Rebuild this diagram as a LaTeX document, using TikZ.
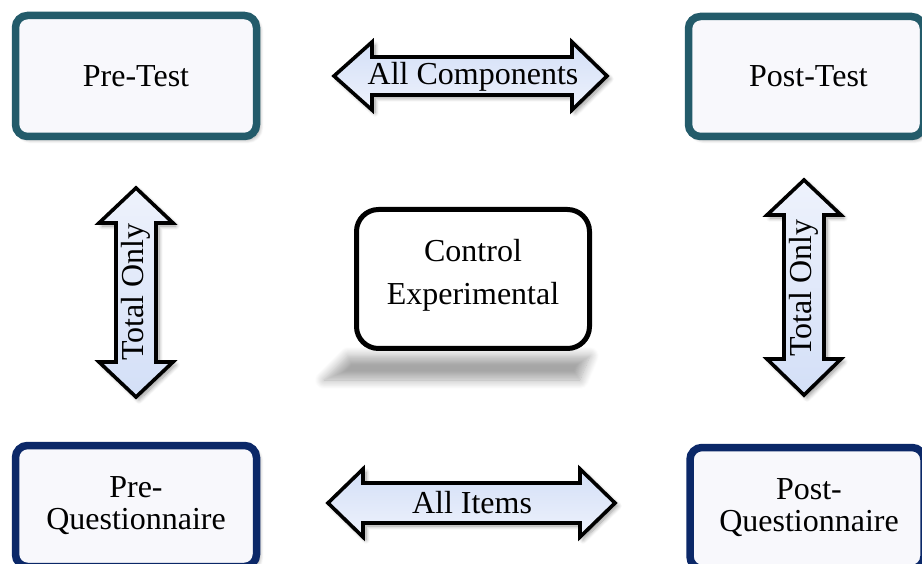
\documentclass[tikz,border=0pt]{standalone}
\usepackage{fontspec}
\setmainfont{Liberation Serif}
\usetikzlibrary{shadows.blur}

\definecolor{tealedge}{HTML}{235B6A}
\definecolor{navyedge}{HTML}{0B2868}
\definecolor{boxfill}{HTML}{F8F8FC}
\definecolor{arrowdark}{HTML}{D3DFF7}
\definecolor{arrowlight}{HTML}{EEF2FC}

\tikzset{
  softshadow/.style={blur shadow={shadow xshift=3pt, shadow yshift=-3pt,
      shadow opacity=40, shadow blur radius=4pt, shadow blur steps=8}},
  stagebox/.style={draw, line width=7.5pt, rounded corners=12pt, fill=boxfill,
      softshadow, align=center, inner sep=0pt,
      font=\fontsize{32}{32}\selectfont},
  testbox/.style={stagebox, draw=tealedge},
  quesbox/.style={stagebox, draw=navyedge},
  groupbox/.style={draw=black, line width=5pt, rounded corners=22pt, fill=white},
  grouptext/.style={align=center, inner sep=0pt, font=\fontsize{32}{43}\selectfont},
  harrow/.style={draw=black, line width=3.6pt, line join=miter, softshadow,
      top color=arrowdark, bottom color=arrowlight},
  varrow/.style={draw=black, line width=3.6pt, line join=miter, softshadow,
      top color=arrowlight, bottom color=arrowdark},
  arrowlabel/.style={inner sep=0pt, font=\fontsize{32}{32}\selectfont},
}

\begin{document}
\begin{tikzpicture}[x=1pt, y=-1pt]
\useasboundingbox (0,0) rectangle (922,564);
\clip (0,0) rectangle (922,564);

% the four stages
\node[testbox, minimum width=241pt, minimum height=121pt] (pretest) at (136,76) {Pre-Test};
\node[testbox, minimum width=235pt, minimum height=120pt] (posttest) at (806,76.5)
  {\hspace*{5pt}Post-Test};
\node[quesbox, minimum width=241pt, minimum height=121pt] (preq) at (136,506) {Pre-\\Questionnaire};
\node[quesbox, minimum width=234pt, minimum height=121pt] (postq) at (807,508)
  {\hspace*{4pt}Post-\\\hspace*{4pt}Questionnaire};

% soft shadow cast under the group box
\path[blur shadow={shadow xshift=0pt, shadow yshift=0pt, shadow opacity=35,
      shadow blur radius=9pt, shadow blur steps=12}]
  (348,356) -- (590,356) -- (580,380) -- (324,380) -- cycle;

% the two groups
\node[groupbox, minimum width=233pt, minimum height=139pt] (groups) at (473,279) {};
\node[grouptext] (groupnames) at ([yshift=4pt]groups.center) {Control\\Experimental};

% horizontal double arrows
\draw[harrow] (334,76) -- (372,42) -- (372,57) -- (572,57) -- (572,42) -- (607,76)
  -- (572,110) -- (572,95) -- (372,95) -- (372,110) -- cycle;
\node[arrowlabel, anchor=base] (allcomp) at (473,85) {All Components};

\draw[harrow] (328,503) -- (363,469) -- (363,483) -- (580,483) -- (580,469) -- (615,503)
  -- (580,537) -- (580,523) -- (363,523) -- (363,537) -- cycle;
\node[arrowlabel, anchor=base] (allitems) at (472,513) {All Items};

% vertical double arrows
\draw[varrow] (136,188) -- (173,223) -- (156,223) -- (156,362) -- (173,362) -- (136,397)
  -- (99,362) -- (116,362) -- (116,223) -- (99,223) -- cycle;
\node[arrowlabel, rotate=90] (totleft) at (136,292) {Total Only};

\draw[varrow] (804,180) -- (841,215) -- (824,215) -- (824,359) -- (841,359) -- (804,395)
  -- (767,359) -- (784,359) -- (784,215) -- (767,215) -- cycle;
\node[arrowlabel, rotate=90] (totright) at (804,288) {Total Only};
\end{tikzpicture}
\end{document}
